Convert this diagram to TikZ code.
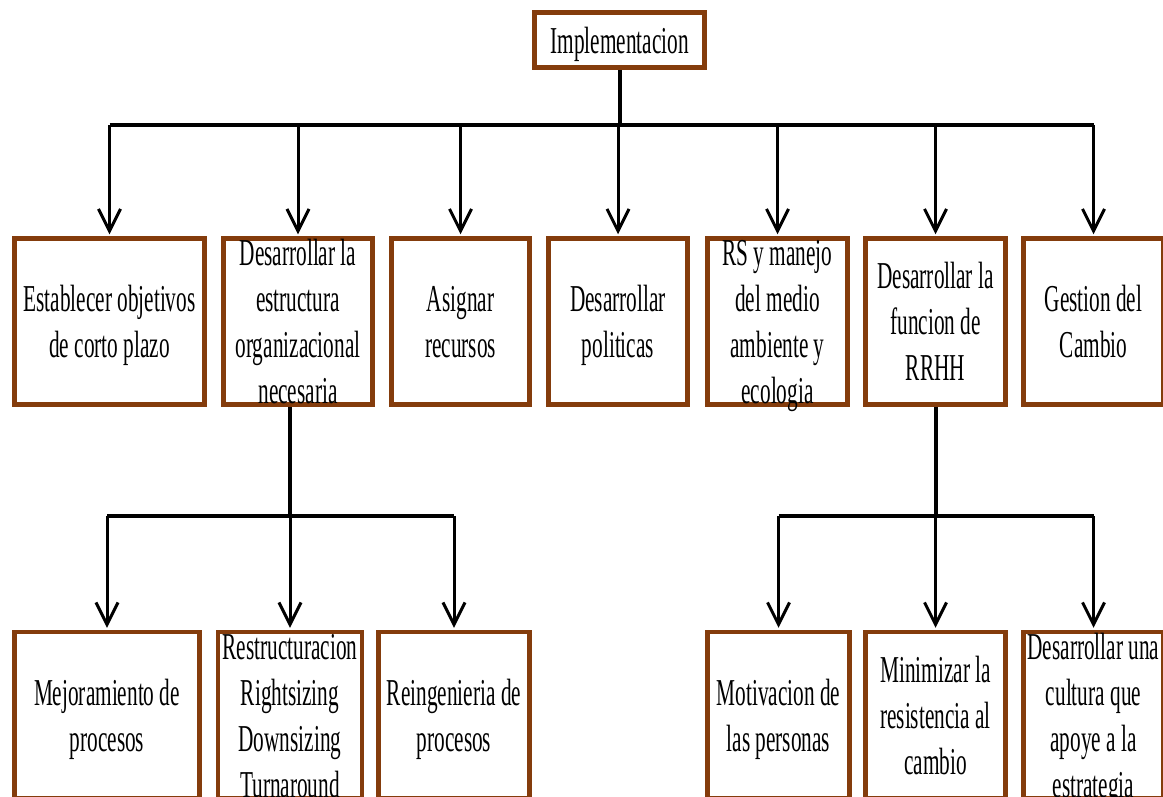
\documentclass[tikz,border=0pt]{standalone}
\usepackage{fontspec}
\setmainfont{Liberation Serif}
\usepackage{graphicx}
\usetikzlibrary{arrows.meta}

\definecolor{boxbrown}{RGB}{132,60,12}

% narrow, centred lines that never stretch the box
\newcommand{\boxlines}[1]{\smash{\raisebox{\dimexpr(\depth-\height)/2-4pt\relax}{%
  \scalebox{0.56}[1]{\begin{tabular}{@{}c@{}}#1\end{tabular}}}}}

\begin{document}
\begin{tikzpicture}[x=1pt,y=-1pt,
  box/.style={draw=boxbrown, line width=4.5pt, fill=white, inner sep=0pt,
    minimum height=166pt, font=\fontsize{38}{46}\selectfont},
  bus/.style={line width=4pt},
  arrow/.style={line width=3pt, shorten >=2pt,
    -{Straight Barb[length=22pt,width=22pt,line width=3pt]}}]

\useasboundingbox (0,0) rectangle (1163,796);
\clip (0,0) rectangle (1163,796);
\fill[white] (0,0) rectangle (1163,796);

% Root
\node[box, minimum width=170pt, minimum height=55pt] (impl) at (619.5,40) {\boxlines{Implementacion}};

% First level
\node[box, minimum width=190pt] (objetivos) at (109.5,321.5) {\boxlines{Establecer objetivos\\de corto plazo}};
\node[box, minimum width=149pt] (estructura) at (298,321.5) {\boxlines{Desarrollar la\\estructura\\organizacional\\necesaria}};
\node[box, minimum width=138pt] (recursos) at (460.5,321.5) {\boxlines{Asignar\\recursos}};
\node[box, minimum width=139pt] (politicas) at (618,321.5) {\boxlines{Desarrollar\\politicas}};
\node[box, minimum width=140pt] (ambiente) at (777.5,321.5) {\boxlines{RS y manejo\\del medio\\ambiente y\\ecologia}};
\node[box, minimum width=140pt] (rrhh) at (935.5,321.5) {\boxlines{Desarrollar la\\funcion de\\RRHH}};
\node[box, minimum width=140pt] (cambio) at (1093.5,321.5) {\boxlines{Gestion del\\Cambio}};

% Second level, structure
\node[box, minimum width=185pt] (mejora) at (107,715) {\boxlines{Mejoramiento de\\procesos}};
\node[box, minimum width=144pt] (restructura) at (290,715) {\boxlines{Restructuracion\\Rightsizing\\Downsizing\\Turnaround}};
\node[box, minimum width=151pt] (reingenieria) at (454,715) {\boxlines{Reingenieria de\\procesos}};

% Second level, RRHH
\node[box, minimum width=142pt] (motivacion) at (778.5,715) {\boxlines{Motivacion de\\las personas}};
\node[box, minimum width=140pt] (resistencia) at (935.5,715) {\boxlines{Minimizar la\\resistencia al\\cambio}};
\node[box, minimum width=140pt] (cultura) at (1093.5,715) {\boxlines{Desarrollar una\\cultura que\\apoye a la\\estrategia}};

% Top bus
\coordinate (bus1) at (0,125);
\draw[bus] (impl.south) -- (impl.south |- bus1);
\draw[bus] (objetivos.north |- bus1) -- (cambio.north |- bus1);
\foreach \n in {objetivos,estructura,recursos,politicas,ambiente,rrhh,cambio}
  \draw[arrow] (\n.north |- bus1) -- (\n.north);

% Lower buses
\coordinate (bus2) at (0,516);
\draw[bus] (estructura.south -| restructura.north) -- (restructura.north |- bus2);
\draw[bus] (mejora.north |- bus2) -- (reingenieria.north |- bus2);
\draw[bus] (rrhh.south -| resistencia.north) -- (resistencia.north |- bus2);
\draw[bus] (motivacion.north |- bus2) -- (cultura.north |- bus2);
\foreach \n in {mejora,restructura,reingenieria,motivacion,resistencia,cultura}
  \draw[arrow] (\n.north |- bus2) -- (\n.north);

\end{tikzpicture}
\end{document}
